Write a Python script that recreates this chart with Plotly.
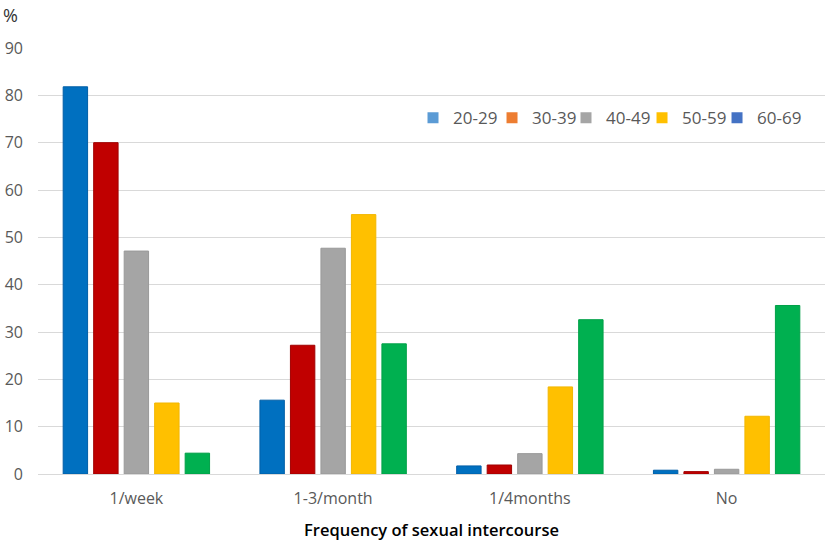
import plotly.graph_objects as go

categories = ["1/week", "1-3/month", "1/4months", "No"]
age_groups = ["20-29", "30-39", "40-49", "50-59", "60-69"]
v_20_29 = [81.8, 15.6, 1.7, 0.8]
v_30_39 = [70.0, 27.2, 1.9, 0.5]
v_40_49 = [47.1, 47.7, 4.3, 1.0]
v_50_59 = [15.0, 54.8, 18.4, 12.2]
v_60_69 = [4.4, 27.5, 32.6, 35.6]
series = [v_20_29, v_30_39, v_40_49, v_50_59, v_60_69]

bar_colors = ["#0070C0", "#C00000", "#A5A5A5", "#FFC000", "#00B050"]
bar_edges = ["#005EA6", "#A00000", "#999999", "#F2B600", "#00A048"]
legend_colors = ["#5B9BD5", "#ED7D31", "#A5A5A5", "#FFC000", "#4472C4"]
legend_x = [0.4765, 0.5769, 0.6709, 0.7675, 0.8628]

fig = go.Figure()
for name, vals, c, e in zip(age_groups, series, bar_colors, bar_edges):
    fig.add_trace(go.Bar(x=categories, y=vals, name=name, showlegend=False,
                         marker=dict(color=c, line=dict(color=e, width=1))))

font_family = "Open Sans, Noto Sans, sans-serif"
legend_layouts = {}
for i, (name, c, lx) in enumerate(zip(age_groups, legend_colors, legend_x)):
    key = "legend" if i == 0 else f"legend{i + 1}"
    fig.add_trace(go.Scatter(x=[None], y=[None], mode="markers", name=name,
                             legend=key,
                             marker=dict(symbol="square", size=11, color=c)))
    legend_layouts[key] = dict(orientation="h", x=lx, y=0.835, xanchor="left",
                               yanchor="middle", itemwidth=30,
                               font=dict(size=17, color="#595959"),
                               bgcolor="rgba(0,0,0,0)")

fig.update_layout(
    width=827, height=546,
    margin=dict(l=38, r=2, t=48, b=72),
    paper_bgcolor="white", plot_bgcolor="white",
    barmode="group", bargap=0.225, bargroupgap=0.2,
    font=dict(family=font_family, size=16, color="#595959"),
    xaxis=dict(showgrid=False, showline=True, linecolor="#D9D9D9", linewidth=1,
               ticks="", tickfont=dict(size=16, color="#595959"),
               ticklabelstandoff=10, automargin=False,
               title=dict(text="Frequency of sexual intercourse",
                          font=dict(size=16.5, color="#000000", family=font_family,
                                    weight=600),
                          standoff=16)),
    yaxis=dict(range=[0, 90], dtick=10, showgrid=True, gridcolor="#D9D9D9",
               gridwidth=1, zeroline=False, ticks="", ticklabelstandoff=14,
               automargin=False, tickfont=dict(size=16, color="#595959")),
    annotations=[dict(text="%", xref="paper", yref="paper", x=0, y=1,
                      xshift=-37, yshift=33, xanchor="left", yanchor="middle",
                      showarrow=False, font=dict(size=18, color="#333333"))],
    **legend_layouts,
)
fig.write_html("out.html", config={"displayModeBar": False},
               post_script="document.body.style.margin='0';")
